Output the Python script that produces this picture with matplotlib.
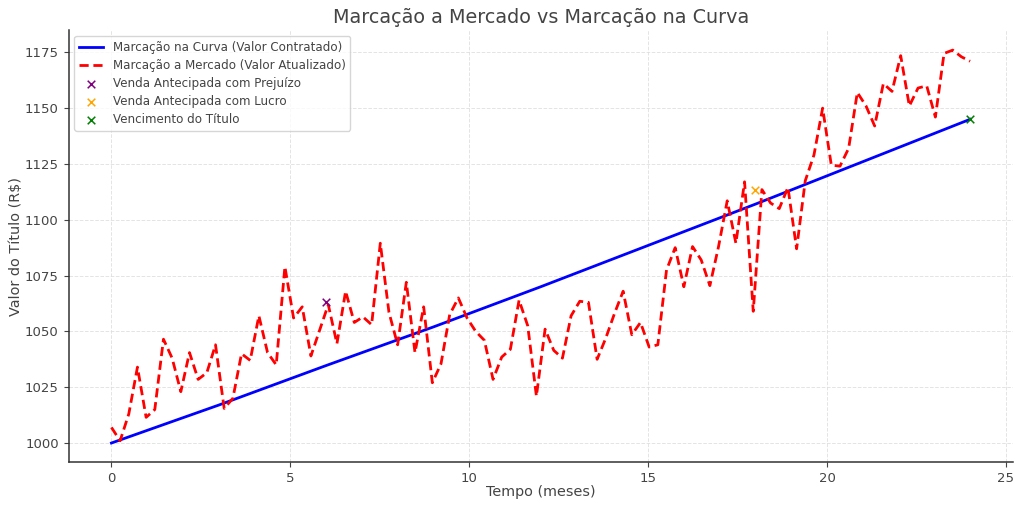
import numpy as np
import matplotlib
matplotlib.use("Agg")
import matplotlib.pyplot as plt

# Curve marking, read every 3 months
curve_months = [0, 3, 6, 9, 12, 15, 18, 21, 24]
curve_values = [1000, 1017, 1034.7, 1052, 1070, 1088.5, 1107, 1126, 1145]

# Market marking, 100 samples over 24 months
market_values = [
    1007, 1001, 1013, 1034, 1011.5, 1015, 1046.5, 1038, 1023, 1040.5,
    1028.5, 1031.5, 1044, 1015.5, 1020, 1040, 1037, 1057, 1040.5, 1035,
    1079, 1056, 1061, 1039, 1050.5, 1062, 1044.5, 1068, 1054, 1056.5,
    1053, 1089.5, 1058.5, 1044, 1072, 1040.5, 1061, 1027, 1035.5, 1057.5,
    1065, 1056, 1050, 1046, 1028.5, 1038.5, 1042, 1064, 1052.5, 1021,
    1051, 1041.5, 1038, 1057, 1063.5, 1063, 1037.5, 1047, 1058, 1068,
    1048.5, 1054, 1043, 1044, 1077.5, 1087.5, 1070, 1088, 1082, 1070.5,
    1088, 1108.5, 1089.5, 1117, 1059, 1113.5, 1107.5, 1105, 1114.5, 1087,
    1117.5, 1129, 1150, 1124.5, 1124, 1132, 1157, 1151, 1142, 1161,
    1157.5, 1173.5, 1151, 1159, 1160, 1146, 1174.5, 1176, 1173, 1171,
]

loss_sale = (6, 1063)
profit_sale = (18, 1113.5)
maturity = (24, 1145)

text_color = "#444444"
spine_color = "#333333"

months = np.linspace(0, 24, len(market_values))

fig = plt.figure(figsize=(10.24, 5.08), dpi=100)
ax = fig.add_axes([68.5 / 1024, 1 - 462 / 508, (1013 - 68.5) / 1024, (462 - 30) / 508])

ax.plot(curve_months, curve_values, color="blue", lw=2, label="Marcação na Curva (Valor Contratado)")
ax.plot(months, market_values, color="red", lw=2, dashes=(3.3, 1.7), label="Marcação a Mercado (Valor Atualizado)")
ax.scatter(*loss_sale, color="purple", marker="x", s=30, lw=1.1, zorder=5, label="Venda Antecipada com Prejuízo")
ax.scatter(*profit_sale, color="orange", marker="x", s=30, lw=1.1, zorder=5, label="Venda Antecipada com Lucro")
ax.scatter(*maturity, color="green", marker="x", s=30, lw=1.1, zorder=5, label="Vencimento do Título")

ax.set_xlim(-1.2, 25.2)
ax.set_ylim(991.5, 1185)
ax.set_xticks([0, 5, 10, 15, 20, 25])
ax.set_yticks(range(1000, 1176, 25))

ax.set_title("Marcação a Mercado vs Marcação na Curva", fontsize=13.8, color=text_color, pad=5)
ax.set_xlabel("Tempo (meses)", fontsize=10.4, color=text_color, labelpad=0)
ax.set_ylabel("Valor do Título (R$)", fontsize=10.4, color=text_color, labelpad=1)
ax.tick_params(labelsize=9.5, colors=text_color, length=3.5)

ax.grid(True, ls="--", lw=0.7, color="#dddddd", alpha=0.8)
ax.set_axisbelow(True)
ax.spines["top"].set_visible(False)
ax.spines["right"].set_visible(False)
ax.spines["left"].set_color(spine_color)
ax.spines["bottom"].set_color(spine_color)
ax.spines["left"].set_linewidth(1.1)
ax.spines["bottom"].set_linewidth(1.1)

leg = ax.legend(loc="upper left", fontsize=8.6, labelcolor=text_color, borderaxespad=0.5, labelspacing=0.42)

fig.savefig("out.png", dpi=100)
